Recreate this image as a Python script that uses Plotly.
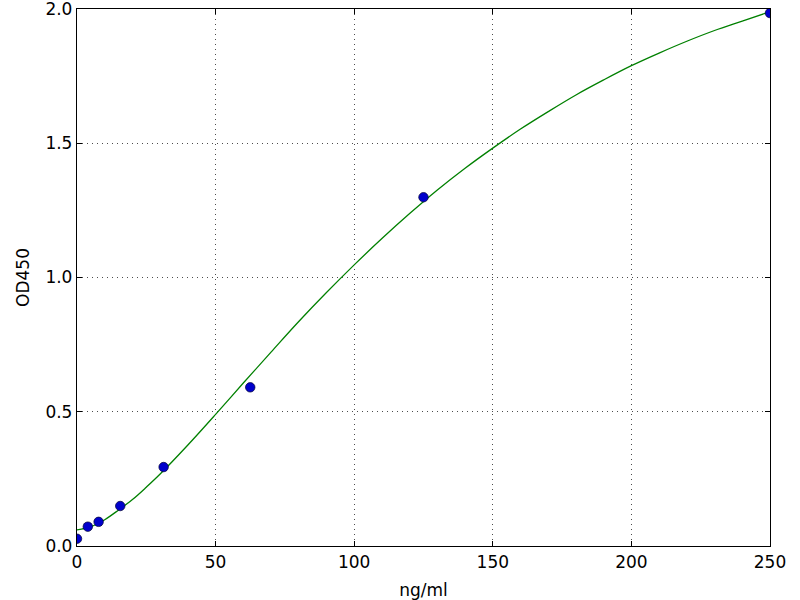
import plotly.graph_objs as go

# standard points (concentration vs OD450)
std_conc = [0, 3.9, 7.8, 15.6, 31.25, 62.5, 125, 250]
std_od = [0.027, 0.072, 0.09, 0.149, 0.294, 0.591, 1.299, 1.985]

# fitted curve
fit_conc = [0, 5, 10, 15, 20, 25, 30, 40, 50, 60, 70, 80, 90, 100, 110, 120,
            130, 140, 150, 160, 170, 180, 190, 200, 210, 220, 230, 240, 250]
fit_od = [0.06, 0.072, 0.098, 0.134, 0.173, 0.219, 0.268, 0.376, 0.49, 0.607,
          0.722, 0.836, 0.944, 1.047, 1.145, 1.238, 1.326, 1.407, 1.482, 1.553,
          1.618, 1.68, 1.736, 1.789, 1.836, 1.88, 1.92, 1.955, 1.99]

x_ticks = [0, 50, 100, 150, 200, 250]
y_ticks = [0.0, 0.5, 1.0, 1.5, 2.0]
y_labels = ['0.0', '0.5', '1.0', '1.5', '2.0']

fig = go.Figure()
fig.add_trace(go.Scatter(x=fit_conc, y=fit_od, mode='lines', line_shape='spline',
                         line=dict(color='#008000', width=1.3), name='fit'))
fig.add_trace(go.Scatter(x=std_conc, y=std_od, mode='markers',
                         marker=dict(color='#0000cc', size=9.5,
                                     line=dict(color='#000033', width=0.7)),
                         name='standards'))

font = dict(family='DejaVu Sans', size=17, color='black')
axis_style = dict(
    showline=True, linecolor='black', linewidth=1.3, mirror='ticks',
    ticks='inside', ticklen=5, tickcolor='black', tickwidth=1,
    showgrid=True, gridcolor='rgba(0,0,0,0.7)', griddash='1px,4px', gridwidth=1,
    zeroline=False, tickfont=font, automargin=False, ticklabeloverflow='allow',
)

fig.update_xaxes(range=[0, 250.01], tickvals=x_ticks,
                 title=dict(text='ng/ml', standoff=13, font=font),
                 **axis_style)
fig.update_yaxes(range=[0, 2.0001], tickvals=y_ticks, ticktext=y_labels,
                 title=dict(text='OD450', standoff=11, font=font),
                 **axis_style)

fig.update_layout(
    width=800, height=600,
    margin=dict(l=77, r=30, t=9, b=54),
    paper_bgcolor='white', plot_bgcolor='white',
    showlegend=False,
)

# page body has a default 8px margin; drop it so the chart sits at 0,0
fig.write_html("out.html", config={'displayModeBar': False},
               post_script="document.body.style.margin='0';")
